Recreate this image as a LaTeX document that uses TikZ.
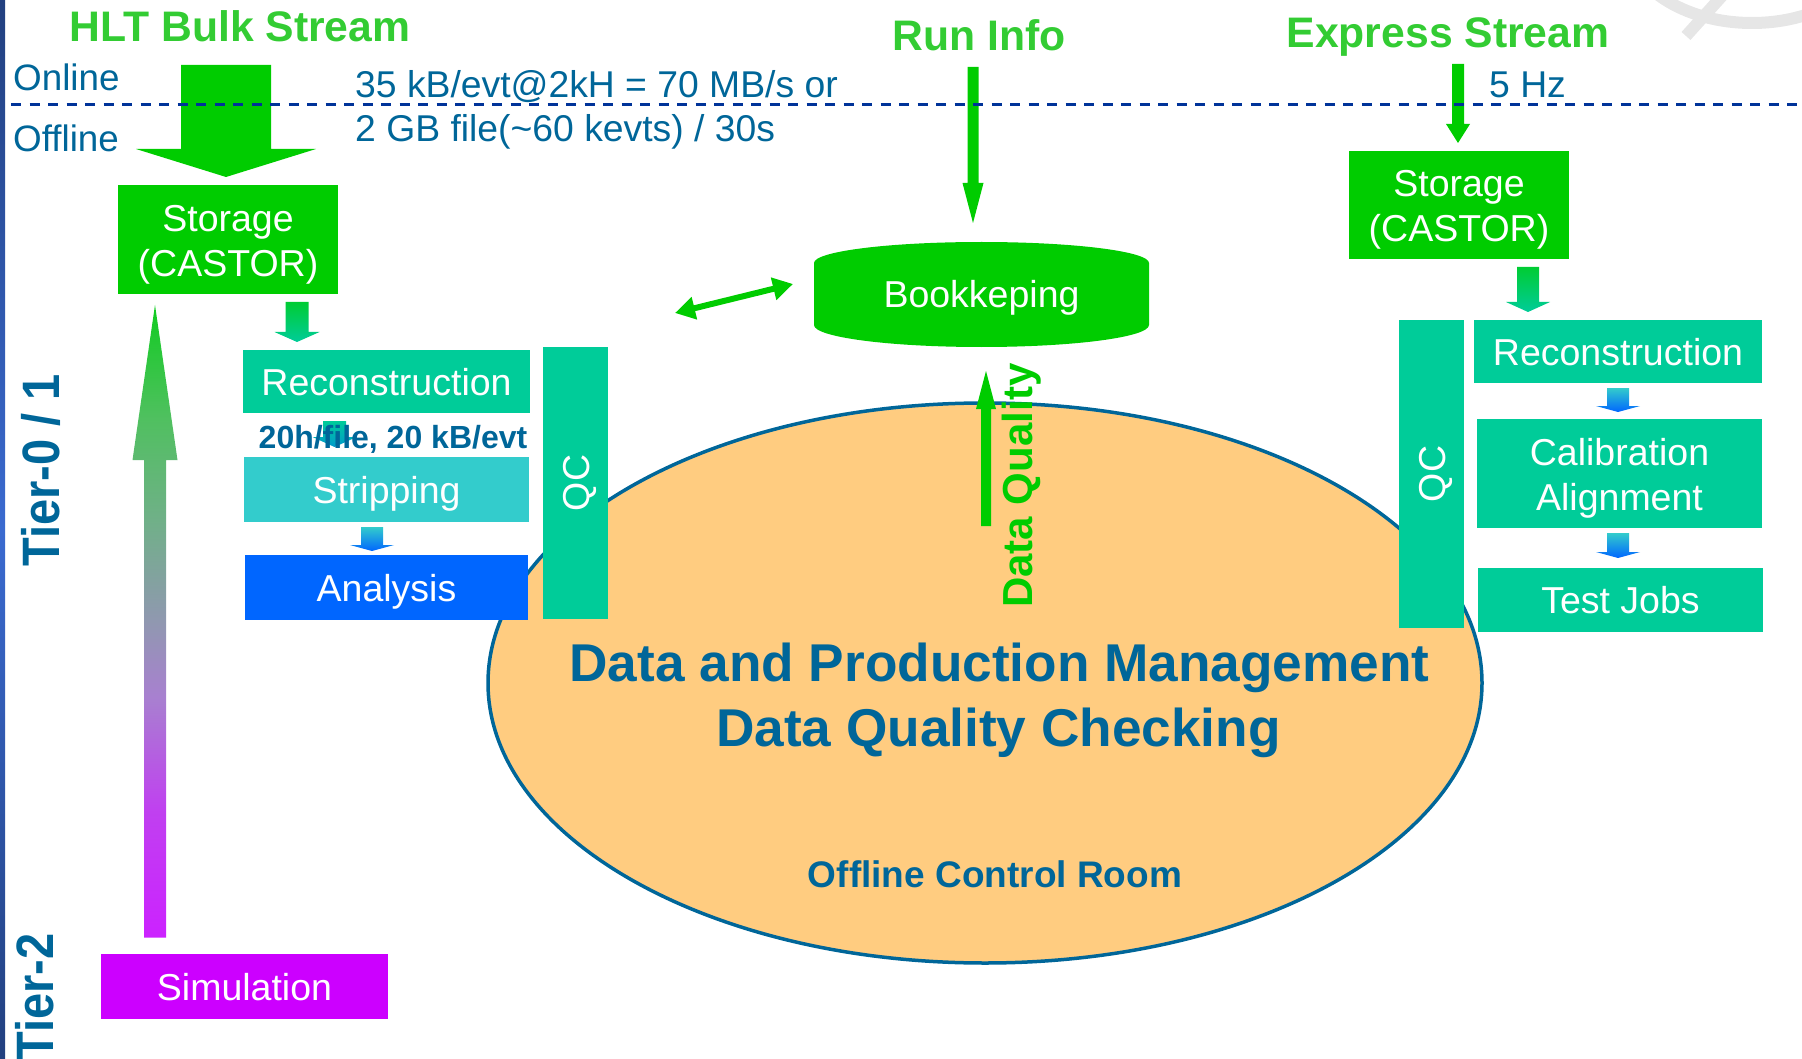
\documentclass[tikz,border=0pt]{standalone}
\usepackage{fontspec}
\setmainfont{Liberation Sans}
\usetikzlibrary{calc,shapes.geometric,arrows.meta,backgrounds}
\definecolor{tblue}{HTML}{006699}
\definecolor{tgreen}{HTML}{33CC33}
\definecolor{bgreen}{HTML}{00CC00}
\definecolor{gtop}{HTML}{00CC33}
\definecolor{teal2}{HTML}{00CC99}
\definecolor{cyan2}{HTML}{33CCCC}
\definecolor{ablue}{HTML}{0066FF}
\definecolor{tblue2}{HTML}{0099CC}
\definecolor{magen}{HTML}{CC00FF}
\definecolor{orangef}{HTML}{FFCC80}
\definecolor{dashb}{HTML}{003399}
\definecolor{lb1}{HTML}{22407F}
\definecolor{lb2}{HTML}{3A6AD0}
\definecolor{wmgray}{HTML}{E6E6E6}
\definecolor{s1}{HTML}{CC22FF}
\definecolor{s2}{HTML}{C040F0}
\definecolor{s3}{HTML}{A880D0}
\definecolor{s4}{HTML}{9098B0}
\definecolor{s5}{HTML}{70B088}
\definecolor{s6}{HTML}{50C060}
\definecolor{s7}{HTML}{10CC20}
\pgfdeclareverticalshading{simgrad}{100bp}{color(0bp)=(s1); color(25bp)=(s1); color(35bp)=(s2); color(44bp)=(s3); color(50bp)=(s4); color(58bp)=(s5); color(66bp)=(s6); color(75bp)=(s7); color(100bp)=(s7)}
% block arrow: #1 style, #2 start coord, #3 tip coord, #4 shaft half width, #5 head half width, #6 signed head length
\newcommand\varrow[6]{%
  \path[#1] let \p1=(#2), \p2=(#3) in
    ({\x2-#4},\y1) -- ({\x2+#4},\y1) -- ({\x2+#4},{\y2+(#6)}) -- ({\x2+#5},{\y2+(#6)})
    -- (\x2,\y2) -- ({\x2-#5},{\y2+(#6)}) -- ({\x2-#4},{\y2+(#6)}) -- cycle;}
\tikzset{
  box/.style={inner sep=0pt, outer sep=0pt, text=white, font=\fontsize{37.5}{45}\selectfont, text height=27pt, text depth=0pt},
  boxtwo/.style={inner sep=0pt, outer sep=0pt},
  twoline/.style={inner sep=0pt, text=white, align=center, font=\fontsize{37.5}{45}\selectfont, yshift=-5pt},
  lbl/.style={inner sep=0pt, text=tblue, font=\fontsize{37.3}{44}\selectfont},
  ttl/.style={inner sep=0pt, text=tgreen, font=\bfseries\fontsize{42.7}{50}\selectfont},
  bigt/.style={inner sep=0pt, text=tblue, font=\bfseries\fontsize{53.2}{64}\selectfont},
  tier/.style={inner sep=0pt, text=tblue, rotate=90, anchor=base west, font=\bfseries\fontsize{47}{56}\selectfont},
  blk/.style={fill=bgreen},
  wm/.style={draw=wmgray, line width=12pt},
}
\begin{document}
\begin{tikzpicture}[x=1pt, y=-1pt]
\useasboundingbox (0,0) rectangle (1802,1059);
% watermark fragment
\draw[wm] (1752,-60) ellipse [x radius=125pt, y radius=83pt];
\draw[wm] (1686,36) -- (1722,-4);
% left bar
\shade[top color=lb1, bottom color=lb1, middle color=lb2] (0,0) rectangle (5,1059);

% central ellipse
\node[ellipse, draw=tblue, line width=3.5pt, fill=orangef, minimum width=994pt, minimum height=560pt, inner sep=0pt] (dpm) at (985,683) {};
\node[bigt, anchor=base] (dpmA) at (999.5,681) {Data and Production Management};
\node[bigt, anchor=base] (dpmB) at (998.5,746) {Data Quality Checking};
\node[inner sep=0pt, text=tblue, font=\bfseries\fontsize{37}{44}\selectfont, anchor=base] (ocr) at (995,887) {Offline Control Room};

% titles and labels
\node[ttl, anchor=base] (hlt) at (240,42) {HLT Bulk Stream};
\node[ttl, anchor=base] (runinfo) at (979.5,51) {Run Info};
\node[ttl, anchor=base] (express) at (1448,48) {Express Stream};
\node[lbl, font=\fontsize{36.8}{43}\selectfont, anchor=base west] (online) at (13,91) {Online};
\node[lbl, font=\fontsize{36.8}{43}\selectfont, anchor=base west] (offline) at (13,152) {Offline};
\node[lbl, anchor=base west] (rate1) at (355,98) {35 kB/evt@2kH = 70 MB/s or};
\node[lbl, anchor=base west] (rate2) at (355,142) {2 GB file(\textasciitilde60 kevts) / 30s};
\node[lbl, anchor=base west] (hz) at (1489,98) {5 Hz};
\node[tier] (tier01) at (59,567) {\scalebox{1}[1.12]{Tier-0 / 1}};
\node[tier] (tier2) at (53,1061) {\scalebox{1}[1.12]{Tier-2}};

% boxes
\node[boxtwo, fill=bgreen, minimum width=220pt, minimum height=109pt,
      label={[twoline]center:{Storage\\(CASTOR)}}] (storL) at (228,239.5) {};
\node[boxtwo, fill=bgreen, minimum width=220pt, minimum height=108pt,
      label={[twoline]center:{Storage\\(CASTOR)}}] (storR) at (1459,205) {};
\node[box, fill=teal2, minimum width=287pt, minimum height=63pt] (reconL) at (386.5,381.5) {Reconstruction};
\node[box, fill=cyan2, minimum width=285pt, minimum height=65pt] (strip) at (386.5,489.5) {Stripping};
\node[box, fill=ablue, minimum width=283pt, minimum height=65pt] (anal) at (386.5,587.5) {Analysis};
\node[box, fill=teal2, rotate=90, minimum width=272pt, minimum height=65pt] (qcL) at (575.5,483) {QC};
\node[box, fill=teal2, minimum width=288pt, minimum height=63pt] (reconR) at (1618,351.5) {Reconstruction};
\node[boxtwo, fill=teal2, minimum width=285pt, minimum height=109pt,
      label={[twoline]center:{Calibration\\Alignment}}] (calib) at (1619.5,473.5) {};
\node[box, fill=teal2, minimum width=285pt, minimum height=64pt] (testj) at (1620.5,600) {Test Jobs};
\node[box, fill=teal2, rotate=90, minimum width=308pt, minimum height=65pt] (qcR) at (1431.5,474) {QC};
\node[box, fill=magen, minimum width=287pt, minimum height=65pt] (sim) at (244.5,986.5) {Simulation};
\node[box, minimum width=335pt, minimum height=62pt] (book) at (981.5,294) {Bookkeping};
\begin{scope}[on background layer]
\fill[bgreen] (book.north west) arc[start angle=180, end angle=0, x radius=167.5pt, y radius=21pt]
  -- (book.south east) arc[start angle=0, end angle=-180, x radius=167.5pt, y radius=22pt] -- cycle;
\end{scope}

% arrow end points
\coordinate (hltA) at (226,65);
\coordinate (hltB) at ($(storL.north)+(-2,-8)$);
\coordinate (a1s) at (297,302);
\coordinate (a1t) at ($(reconL.north)+(-89.5,-8)$);
\coordinate (a2s) at ($(reconL.south)+(-52,8)$);
\coordinate (a2t) at (334.5,447);
\coordinate (a3s) at ($(strip.south)+(-14.5,5)$);
\coordinate (a3t) at ($(anal.north)+(-14.5,-4)$);
\coordinate (a4s) at ($(storR.south)+(69,8)$);
\coordinate (a4t) at ($(reconR.north)+(-90,-8)$);
\coordinate (a5s) at ($(reconR.south)+(0,5)$);
\coordinate (a5t) at ($(calib.north)+(-1.5,-7)$);
\coordinate (a6s) at ($(calib.south)+(-1.5,5)$);
\coordinate (a6t) at ($(testj.north)+(-2.5,-10)$);
\coordinate (exA) at (1458,64);
\coordinate (exB) at (1458,143);
\coordinate (riA) at (973,67);
\coordinate (riB) at (973,223);
\coordinate (dqA) at (986,526);
\coordinate (dqB) at (986,371);
\coordinate (simA) at ($(sim.north)+(-89.5,-16.5)$);
\coordinate (simB) at (155,305);
\coordinate (bkL) at (675,313);
\coordinate (bkR) at (793,284);

% block arrows
\varrow{blk}{hltA}{hltB}{45pt}{90pt}{28pt}
\varrow{top color=gtop, bottom color=teal2}{a1s}{a1t}{11.5pt}{22.5pt}{10pt}
\varrow{top color=teal2, bottom color=tblue2}{a2s}{a2t}{11.5pt}{22pt}{10pt}
\varrow{top color=cyan2, bottom color=ablue}{a3s}{a3t}{11pt}{22pt}{6pt}
\varrow{top color=gtop, bottom color=teal2}{a4s}{a4t}{11pt}{22pt}{10pt}
\varrow{top color=cyan2, bottom color=ablue}{a5s}{a5t}{11pt}{22pt}{6pt}
\varrow{top color=cyan2, bottom color=ablue}{a6s}{a6t}{11pt}{22pt}{6pt}
\varrow{blk}{exA}{exB}{6pt}{12pt}{19pt}
\varrow{blk}{riA}{riB}{5.5pt}{10.5pt}{40pt}
\varrow{blk}{dqA}{dqB}{5pt}{10pt}{-38pt}
\varrow{shade, shading=simgrad}{simA}{simB}{11pt}{22.5pt}{-155pt}
\draw[bgreen, line width=6pt, {Triangle[length=20pt,width=22pt]}-{Triangle[length=20pt,width=22pt]}] (bkL) -- (bkR);

% text over arrows
\node[anchor=base, text=tblue, font=\bfseries\fontsize{32}{38}\selectfont, inner sep=0pt] (rate3) at (393,448) {20h/file, 20 kB/evt};
\node[inner sep=0pt, text=bgreen, rotate=90, anchor=base west, font=\bfseries\fontsize{42}{50}\selectfont] (dq) at (1032,608) {Data Quality};

% online / offline divider
\draw[dashb, line width=3pt, dash pattern=on 10pt off 8.5pt] (11,105) -- (1802,105);
\end{tikzpicture}
\end{document}
